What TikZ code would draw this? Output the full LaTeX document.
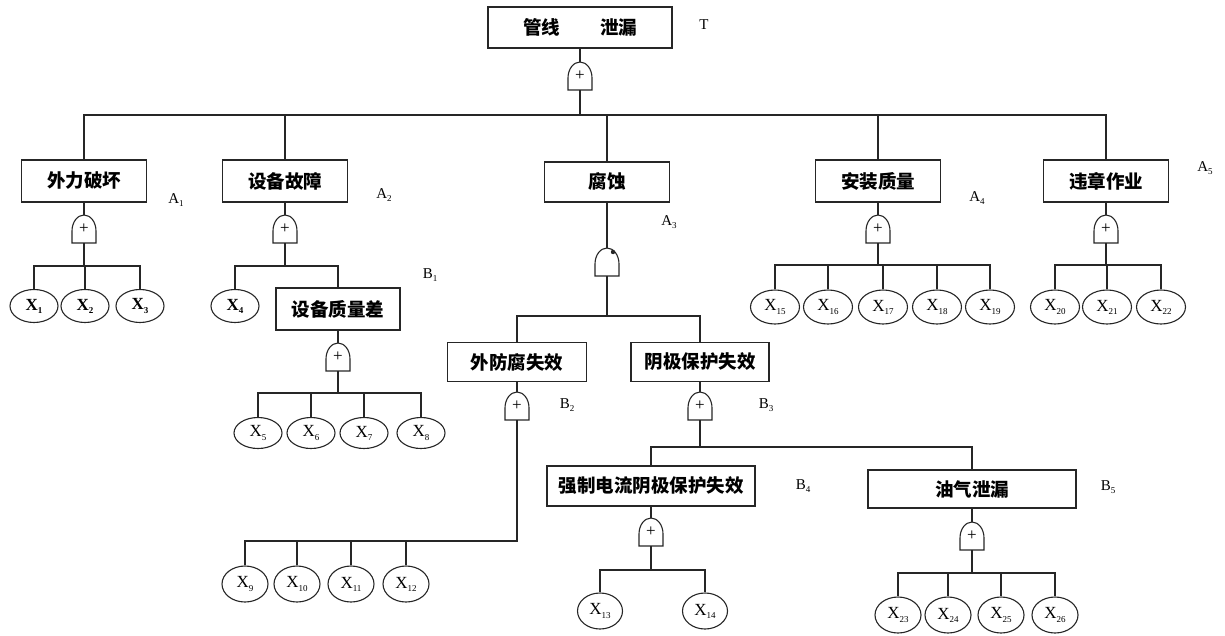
\documentclass[tikz,border=0pt]{standalone}
\usepackage{fontspec}
\setmainfont{Liberation Serif}
\newfontfamily\cjk{Noto Sans CJK SC}
\usetikzlibrary{shapes.geometric}
\newcommand\sbs[1]{\raisebox{-0.4ex}{\fontsize{9}{9}\selectfont #1}}
\newcommand\gateshape[1]{\draw[wire] (#1.south west) -- ++(0pt,12pt) arc[start angle=180,end angle=0,x radius=12pt,y radius=16pt] -- (#1.south east) -- cycle;}
\tikzset{
  wire/.style={line width=1.1pt, draw=black!85},
  box/.style={draw=black!85, line width=1.1pt, fill=white, minimum height=41pt, inner sep=0pt, font=\cjk\bfseries\fontsize{18.5}{18.5}\selectfont},
  ev/.style={ellipse, draw=black!85, line width=1.1pt, minimum width=48pt, minimum height=33pt, inner sep=0pt, font=\fontsize{17}{17}\selectfont},
  lab/.style={font=\fontsize{15}{15}\selectfont, inner sep=0pt},
  gate/.style={minimum width=24pt, minimum height=28pt, inner sep=0pt, outer sep=0pt, font=\fontsize{17}{17}\selectfont},
}
\begin{document}
\begin{tikzpicture}[x=1pt,y=-1pt]
\useasboundingbox (0,0) rectangle (1225,635);
% top
\node[box, minimum width=184pt] (t) at (580,27.5) {管线\hspace{40pt}泄漏};
\node[lab] (lt) at (704,25) {T};
\node[gate] (g0) at (580,76) {+}; \gateshape{g0}
\draw[wire] (t.south) -- (g0.north);
\coordinate (bus0) at (0,115);
% level A
\node[box, minimum width=125pt, minimum height=42pt] (a1) at (84,181) {外力破坏};
\node[box, minimum width=125pt, minimum height=42pt] (a2) at (285,181) {设备故障};
\node[box, minimum width=125pt, minimum height=40pt] (a3) at (607,182) {腐蚀};
\node[box, minimum width=125pt, minimum height=42pt] (a4) at (878,181) {安装质量};
\node[box, minimum width=125pt, minimum height=42pt] (a5) at (1106,181) {违章作业};
\foreach \c in {a1,a2,a3,a4,a5} \draw[wire] (g0.south) |- (\c.north |- bus0) -- (\c.north);
\node[lab] (la1) at (176,200) {A\sbs{1}};
\node[lab] (la2) at (384,195) {A\sbs{2}};
\node[lab] (la3) at (669,222) {A\sbs{3}};
\node[lab] (la4) at (977,198) {A\sbs{4}};
\node[lab] (la5) at (1205,168) {A\sbs{5}};
% gates A
\node[gate] (ga1) at (84,229) {+}; \gateshape{ga1}
\node[gate] (ga2) at (285,229) {+}; \gateshape{ga2}
\node[gate] (ga3) at (607,262) {}; \gateshape{ga3}
\fill[black!85] (613,252) circle (2.2pt);
\node[gate] (ga4) at (878,229) {+}; \gateshape{ga4}
\node[gate] (ga5) at (1106,229) {+}; \gateshape{ga5}
\foreach \c in {1,2,3,4,5} \draw[wire] (a\c.south) -- (ga\c.north);
% A1 children
\coordinate (busa1) at (0,266);
\node[ev] (x1) at (34,306) {\bfseries X\sbs{1}};
\node[ev] (x2) at (85,306) {\bfseries X\sbs{2}};
\node[ev] (x3) at (140,306) {\bfseries X\sbs{3}};
\foreach \c in {x1,x2,x3} \draw[wire] (ga1.south) |- (\c.north |- busa1) -- (\c.north);
% A2 children
\coordinate (busa2) at (0,266);
\node[ev] (x4) at (235,306) {\bfseries X\sbs{4}};
\node[box, minimum width=124pt, minimum height=42pt] (b1) at (338,309) {设备质量差};
\node[lab] (lb1) at (430,275) {B\sbs{1}};
\foreach \c in {x4,b1} \draw[wire] (ga2.south) |- (\c.north |- busa2) -- (\c.north);
\node[gate] (gb1) at (338,357) {+}; \gateshape{gb1}
\draw[wire] (b1.south) -- (gb1.north);
\coordinate (busb1) at (0,393);
\node[ev, minimum height=31pt] (x5) at (258,433) {X\sbs{5}};
\node[ev, minimum height=31pt] (x6) at (311,433) {X\sbs{6}};
\node[ev, minimum height=31pt] (x7) at (364,433) {X\sbs{7}};
\node[ev, minimum height=31pt] (x8) at (421,433) {X\sbs{8}};
\foreach \c in {x5,x6,x7,x8} \draw[wire] (gb1.south) |- (\c.north |- busb1) -- (\c.north);
% A3 children
\coordinate (busa3) at (0,316);
\node[box, minimum width=139pt, minimum height=39pt] (b2) at (517,362) {外防腐失效};
\node[box, minimum width=138pt, minimum height=39pt] (b3) at (700,362) {阴极保护失效};
\foreach \c in {b2,b3} \draw[wire] (ga3.south) |- (\c.north |- busa3) -- (\c.north);
\node[lab] (lb2) at (567,405) {B\sbs{2}};
\node[lab] (lb3) at (766,405) {B\sbs{3}};
\node[gate] (gb2) at (517,406) {+}; \gateshape{gb2}
\node[gate] (gb3) at (700,406) {+}; \gateshape{gb3}
\draw[wire] (b2.south) -- (gb2.north);
\draw[wire] (b3.south) -- (gb3.north);
\coordinate (busb2) at (0,541);
\node[ev, minimum width=46pt, minimum height=36pt] (x9) at (245,584) {X\sbs{9}};
\node[ev, minimum width=46pt, minimum height=36pt] (x10) at (297,584) {X\sbs{10}};
\node[ev, minimum width=46pt, minimum height=36pt] (x11) at (351,584) {X\sbs{11}};
\node[ev, minimum width=46pt, minimum height=36pt] (x12) at (406,584) {X\sbs{12}};
\foreach \c in {x9,x10,x11,x12} \draw[wire] (gb2.south) |- (\c.north |- busb2) -- (\c.north);
\coordinate (busb3) at (0,447);
\node[box, minimum width=208pt, minimum height=40pt] (b4) at (651,486) {强制电流阴极保护失效};
\node[box, minimum width=208pt, minimum height=38pt] (b5) at (972,489) {油气泄漏};
\foreach \c in {b4,b5} \draw[wire] (gb3.south) |- (\c.north |- busb3) -- (\c.north);
\node[lab] (lb4) at (803,486) {B\sbs{4}};
\node[lab] (lb5) at (1108,487) {B\sbs{5}};
\node[gate] (gb4) at (651,532) {+}; \gateshape{gb4}
\node[gate] (gb5) at (972,536) {+}; \gateshape{gb5}
\draw[wire] (b4.south) -- (gb4.north);
\draw[wire] (b5.south) -- (gb5.north);
\coordinate (busb4) at (0,570);
\node[ev, minimum width=45pt, minimum height=36pt] (x13) at (600,611) {X\sbs{13}};
\node[ev, minimum width=45pt, minimum height=36pt] (x14) at (705,611) {X\sbs{14}};
\foreach \c in {x13,x14} \draw[wire] (gb4.south) |- (\c.north |- busb4) -- (\c.north);
\coordinate (busb5) at (0,573);
\node[ev, minimum width=46pt, minimum height=36pt] (x23) at (898,615) {X\sbs{23}};
\node[ev, minimum width=46pt, minimum height=36pt] (x24) at (948,615) {X\sbs{24}};
\node[ev, minimum width=46pt, minimum height=36pt] (x25) at (1001,615) {X\sbs{25}};
\node[ev, minimum width=46pt, minimum height=36pt] (x26) at (1055,615) {X\sbs{26}};
\foreach \c in {x23,x24,x25,x26} \draw[wire] (gb5.south) |- (\c.north |- busb5) -- (\c.north);
% A4 children
\coordinate (busa4) at (0,265);
\node[ev, minimum width=49pt, minimum height=34pt] (x15) at (775,307) {X\sbs{15}};
\node[ev, minimum width=49pt, minimum height=34pt] (x16) at (828,307) {X\sbs{16}};
\node[ev, minimum width=49pt, minimum height=34pt] (x17) at (883,307) {X\sbs{17}};
\node[ev, minimum width=49pt, minimum height=34pt] (x18) at (937,307) {X\sbs{18}};
\node[ev, minimum width=49pt, minimum height=34pt] (x19) at (990,307) {X\sbs{19}};
\foreach \c in {x15,x16,x17,x18,x19} \draw[wire] (ga4.south) |- (\c.north |- busa4) -- (\c.north);
% A5 children
\coordinate (busa5) at (0,265);
\node[ev, minimum width=49pt, minimum height=34pt] (x20) at (1055,307) {X\sbs{20}};
\node[ev, minimum width=49pt, minimum height=34pt] (x21) at (1107,307) {X\sbs{21}};
\node[ev, minimum width=49pt, minimum height=34pt] (x22) at (1161,307) {X\sbs{22}};
\foreach \c in {x20,x21,x22} \draw[wire] (ga5.south) |- (\c.north |- busa5) -- (\c.north);
\end{tikzpicture}
\end{document}
